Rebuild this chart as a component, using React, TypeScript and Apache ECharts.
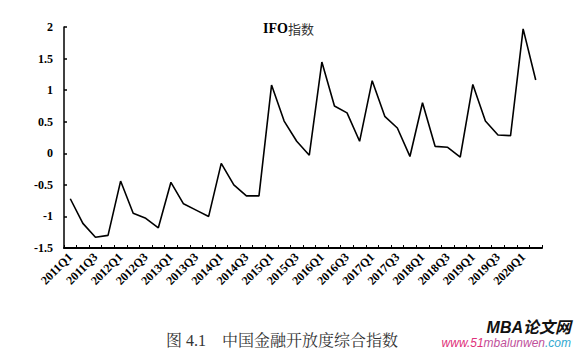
import React, { useEffect, useRef } from "react";
import * as echarts from "echarts";

const quarters: string[] = [];
for (let y = 2011; y <= 2020; y++) {
  for (let q = 1; q <= 4; q++) {
    if (y === 2020 && q > 2) break;
    quarters.push(`${y}Q${q}`);
  }
}

const ifoValues = [
  -0.72, -1.11, -1.33, -1.30,
  -0.44, -0.95, -1.03, -1.18,
  -0.46, -0.80, -0.90, -1.00,
  -0.16, -0.50, -0.675, -0.675,
  1.08, 0.51, 0.19, -0.03,
  1.445, 0.75, 0.64, 0.19,
  1.15, 0.585, 0.40, -0.05,
  0.80, 0.11, 0.095, -0.06,
  1.09, 0.51, 0.29, 0.28,
  1.97, 1.16,
];

const seriesName = "IFO指数";
const captionText = "图 4.1　中国金融开放度综合指数";

export default function App() {
  const ref = useRef<HTMLDivElement>(null);
  useEffect(() => {
    document.body.style.margin = "0";
    const chart = echarts.init(ref.current!, undefined, { renderer: "svg" });
    const serif = "'Liberation Serif', 'Times New Roman', serif";
    chart.setOption({
      animation: false,
      backgroundColor: "#ffffff",
      grid: { left: 64, right: 33, top: 27, bottom: 103, containLabel: false },
      xAxis: {
        type: "category",
        data: quarters,
        boundaryGap: true,
        axisLine: { show: true, onZero: false, lineStyle: { color: "#000", width: 2 } },
        axisTick: { show: true, inside: true, length: 3, interval: 0, lineStyle: { color: "#000", width: 1 } },
        axisLabel: {
          interval: 1,
          rotate: 45,
          color: "#000",
          fontFamily: serif,
          fontWeight: "bold",
          fontSize: 12,
          margin: 7,
        },
        splitLine: { show: false },
      },
      yAxis: {
        type: "value",
        min: -1.5,
        max: 2,
        interval: 0.5,
        axisLine: { show: true, lineStyle: { color: "#000", width: 1.5 } },
        axisTick: { show: true, inside: true, length: 3, lineStyle: { color: "#000", width: 1.5 } },
        axisLabel: {
          color: "#000",
          fontFamily: serif,
          fontWeight: "bold",
          fontSize: 12,
          margin: 11,
        },
        splitLine: { show: false },
      },
      series: [
        {
          name: seriesName,
          type: "line",
          data: ifoValues,
          showSymbol: false,
          symbol: "none",
          lineStyle: { color: "#000", width: 1.6 },
        },
      ],
      graphic: [
        {
          type: "text",
          left: 263,
          top: 21,
          style: {
            text: "{a|IFO}{b|指数}",
            rich: {
              a: { fontFamily: serif, fontWeight: "bold", fontSize: 14, fill: "#000" },
              b: { fontFamily: "'Noto Sans CJK SC', sans-serif", fontSize: 13, fill: "#333" },
            },
          },
        },
        {
          type: "text",
          left: 166,
          top: 332,
          style: {
            text: captionText,
            font: "16px 'Liberation Serif', 'Noto Serif CJK SC', 'Noto Sans CJK SC', serif",
            fill: "#333",
          },
        },
        {
          type: "text",
          right: 4,
          top: 319,
          style: {
            text: "MBA论文网",
            font: "italic bold 16px 'Liberation Sans', 'Noto Sans CJK SC', sans-serif",
            fill: "#111",
          },
        },
        {
          type: "text",
          right: 4,
          top: 337,
          style: {
            text: "{p|www.51}{m|mbalunwen}{c|.com}",
            rich: {
              p: { fontFamily: "'Liberation Sans', sans-serif", fontStyle: "italic", fontSize: 12, fill: "#e0307a" },
              m: { fontFamily: "'Liberation Sans', sans-serif", fontStyle: "italic", fontSize: 12, fill: "#c0509a" },
              c: { fontFamily: "'Liberation Sans', sans-serif", fontStyle: "italic", fontSize: 12, fill: "#30a8d0" },
            },
          },
        },
      ],
    });
    return () => chart.dispose();
  }, []);
  return (
    <div
      ref={ref}
      style={{ width: 575, height: 351, position: "absolute", left: 0, top: 0 }}
    />
  );
}
